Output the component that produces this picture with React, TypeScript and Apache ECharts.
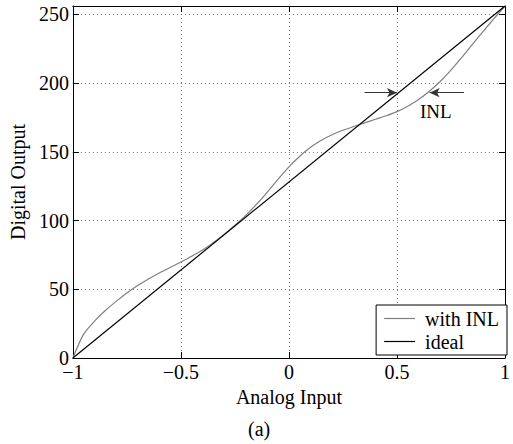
import React, { useEffect, useRef } from "react";
import * as echarts from "echarts";

const xInl: number[] = [
  -1, -0.95, -0.9, -0.85, -0.8, -0.75, -0.7, -0.65, -0.6, -0.55, -0.5, -0.45, -0.4,
  -0.35, -0.3, -0.25, -0.2, -0.15, -0.1, -0.05, 0, 0.05, 0.1, 0.15, 0.2, 0.25, 0.3,
  0.35, 0.4, 0.45, 0.5, 0.55, 0.6, 0.65, 0.7, 0.75, 0.8, 0.85, 0.9, 0.95, 1,
];
const yInl: number[] = [
  0, 17.4, 26.8, 34.5, 41.2, 47.3, 52.7, 57.5, 61.8, 65.8, 69.8, 74, 78.6,
  83.9, 89.9, 96.5, 103.7, 111.8, 120.7, 130.1, 139, 146.7, 153.2, 158.4, 162.4, 165.6, 168.4,
  171, 173.6, 176.2, 179.2, 183.1, 188, 194, 201.1, 209.4, 218.6, 228.2, 237.7, 247, 256,
];
const xIdeal: number[] = [-1, 1];
const yIdeal: number[] = [0, 256];
const xTicks: number[] = [-1, -0.5, 0, 0.5, 1];
const yTicks: number[] = [0, 50, 100, 150, 200, 250];
const seriesNames: string[] = ["with INL", "ideal"];
// INL arrows: [fromX, toX, y]
const inlArrows: number[][] = [
  [0.35, 0.5, 193],
  [0.81, 0.651, 193],
];
const inlLabel: number[] = [0.68, 179];

const FONT = '"Liberation Serif", "Times New Roman", serif';

export default function App() {
  const ref = useRef<HTMLDivElement>(null);
  useEffect(() => {
    if (!ref.current) return;
    const chart = echarts.init(ref.current, null, { renderer: "svg" });
    const fmtX = (v: number) =>
      xTicks.includes(v) ? String(v).replace("-", "\u2212") : "";
    const fmtY = (v: number) => (yTicks.includes(v) ? String(v) : "");
    const baseAxisLine = { show: true, onZero: false, lineStyle: { color: "#000", width: 1 } };
    const tick = { show: true, inside: true, length: 6, lineStyle: { color: "#000" } };
    const splitLine = {
      show: true,
      lineStyle: { color: "#777", width: 1, type: [1, 3] as any },
    };
    chart.setOption({
      animation: false,
      textStyle: { fontFamily: FONT },
      grid: { left: 66, right: 2, top: 6, bottom: 86 },
      xAxis: [
        {
          type: "value",
          min: -1,
          max: 1,
          interval: 0.5,
          position: "bottom",
          axisLine: baseAxisLine,
          axisTick: tick,
          axisLabel: { formatter: fmtX, color: "#000", fontSize: 20, fontFamily: FONT, margin: 4 },
          splitLine,
          name: "Analog Input",
          nameLocation: "middle",
          nameGap: 23,
          nameTextStyle: { color: "#000", fontSize: 20, fontFamily: FONT },
        },
        {
          type: "value",
          min: -1,
          max: 1,
          interval: 0.5,
          position: "top",
          axisLine: baseAxisLine,
          axisTick: tick,
          axisLabel: { show: false },
          splitLine: { show: false },
        },
      ],
      yAxis: [
        {
          type: "value",
          min: 0,
          max: 256,
          interval: 50,
          position: "left",
          axisLine: baseAxisLine,
          axisTick: tick,
          axisLabel: { formatter: fmtY, color: "#000", fontSize: 20, fontFamily: FONT, margin: 4 },
          splitLine,
          name: "Digital Output",
          nameLocation: "middle",
          nameGap: 31,
          nameTextStyle: { color: "#000", fontSize: 20, fontFamily: FONT },
        },
        {
          type: "value",
          min: 0,
          max: 256,
          interval: 50,
          position: "right",
          axisLine: baseAxisLine,
          axisTick: tick,
          axisLabel: { show: false },
          splitLine: { show: false },
        },
      ],
      legend: {
        orient: "vertical",
        right: 6,
        top: 305,
        padding: [3, 8, 3, 8],
        itemGap: 2,
        itemWidth: 31,
        itemHeight: 1.2,
        icon: "rect",
        borderColor: "#000",
        borderWidth: 1,
        backgroundColor: "#fff",
        textStyle: { color: "#000", fontSize: 20, fontFamily: FONT, lineHeight: 21, padding: [0, 0, 0, 5] },
        data: seriesNames,
      },
      series: [
        {
          name: seriesNames[0],
          type: "line",
          xAxisIndex: 0,
          yAxisIndex: 0,
          data: xInl.map((x, i) => [x, yInl[i]]),
          smooth: 0.3,
          symbol: "none",
          lineStyle: { color: "#808080", width: 1.2 },
          itemStyle: { color: "#808080" },
          markPoint: {
            silent: true,
            symbol: "circle",
            symbolSize: 0,
            label: {
              show: true,
              position: "inside",
              formatter: "INL",
              color: "#000",
              fontSize: 19,
              fontFamily: FONT,
            },
            data: [{ coord: inlLabel, value: 0 }],
          },
        },
        {
          name: seriesNames[1],
          type: "line",
          xAxisIndex: 0,
          yAxisIndex: 0,
          data: xIdeal.map((x, i) => [x, yIdeal[i]]),
          symbol: "none",
          lineStyle: { color: "#000", width: 1.2 },
          itemStyle: { color: "#000" },
          markLine: {
            silent: true,
            symbol: ["none", "arrow"],
            symbolSize: [7, 10],
            label: { show: false },
            lineStyle: { color: "#333", width: 1.2, type: "solid" },
            data: inlArrows.map((a) => [
              { coord: [a[0], a[2]] },
              { coord: [a[1], a[2]] },
            ]),
          },
        },
      ],
      graphic: [
        {
          type: "text",
          left: 248,
          top: 419,
          style: { text: "(a)", fill: "#000", fontSize: 20, fontFamily: FONT },
        },
      ],
    });
    return () => chart.dispose();
  }, []);
  return (
    <div
      ref={ref}
      style={{ position: "fixed", left: 0, top: 0, width: 513, height: 444, background: "#fff" }}
    />
  );
}
